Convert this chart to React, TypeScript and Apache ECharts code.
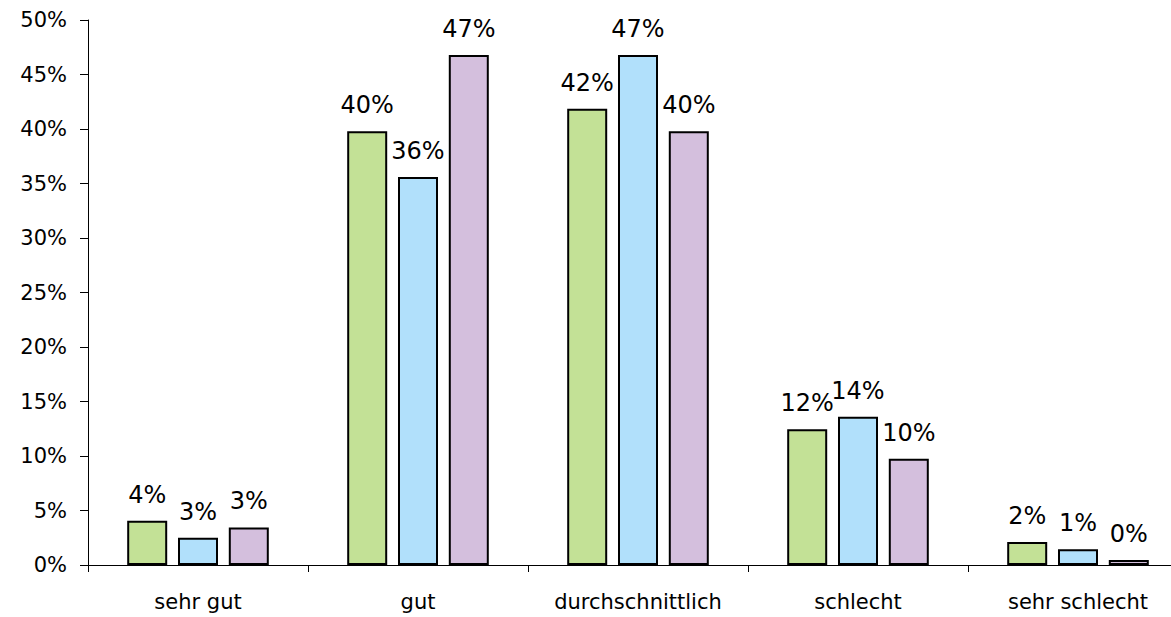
import React, { useEffect, useRef } from "react";
import * as echarts from "echarts";

// Rating categories along the x axis
const categories = ["sehr gut", "gut", "durchschnittlich", "schlecht", "sehr schlecht"];

// Shares in percent for the three groups
const greenValues = [4.05, 39.8, 41.85, 12.45, 2.1];
const blueValues = [2.5, 35.6, 46.8, 13.6, 1.45];
const purpleValues = [3.45, 46.8, 39.8, 9.75, 0.45];

const seriesColors = ["#C3E196", "#B1E0FB", "#D4BFDD"];

const FONT = "'DejaVu Sans', Verdana, sans-serif";

export default function App() {
  const ref = useRef<HTMLDivElement>(null);

  useEffect(() => {
    if (!ref.current) return;
    const chart = echarts.init(ref.current, undefined, { renderer: "svg" });

    const makeSeries = (data: number[], color: string) => ({
      type: "bar" as const,
      data,
      barWidth: 40,
      barGap: "27%",
      itemStyle: { color, borderColor: "#000", borderWidth: 2 },
      label: {
        show: true,
        position: "top" as const,
        distance: 14,
        color: "#000",
        fontFamily: FONT,
        fontSize: 24,
        formatter: (p: any) => `${Math.round(p.value)}%`,
      },
    });

    chart.setOption({
      animation: false,
      backgroundColor: "#fff",
      // the plot runs a little past the right edge of the visible page
      grid: { left: 88, right: 0, top: 20, bottom: 52, containLabel: false },
      xAxis: {
        type: "category",
        data: categories,
        boundaryGap: true,
        axisLine: { lineStyle: { color: "#000", width: 1 } },
        axisTick: { show: true, interval: 0, length: 7, lineStyle: { color: "#000" } },
        axisLabel: { interval: 0, color: "#000", fontFamily: FONT, fontSize: 21, margin: 26 },
      },
      yAxis: {
        type: "value",
        min: 0,
        max: 50,
        interval: 5,
        axisLine: { show: true, lineStyle: { color: "#000", width: 1 } },
        axisTick: { show: true, length: 8, lineStyle: { color: "#000" } },
        splitLine: { show: false },
        axisLabel: {
          color: "#000",
          fontFamily: FONT,
          fontSize: 21,
          margin: 21,
          formatter: "{value}%",
        },
      },
      series: [
        makeSeries(greenValues, seriesColors[0]),
        makeSeries(blueValues, seriesColors[1]),
        makeSeries(purpleValues, seriesColors[2]),
      ],
    });

    return () => chart.dispose();
  }, []);

  return (
    <div style={{ position: "fixed", left: 0, top: 0, width: 1171, height: 617, overflow: "hidden", background: "#fff" }}>
      <div ref={ref} style={{ position: "absolute", left: 0, top: 0, width: 1188, height: 617 }} />
    </div>
  );
}
